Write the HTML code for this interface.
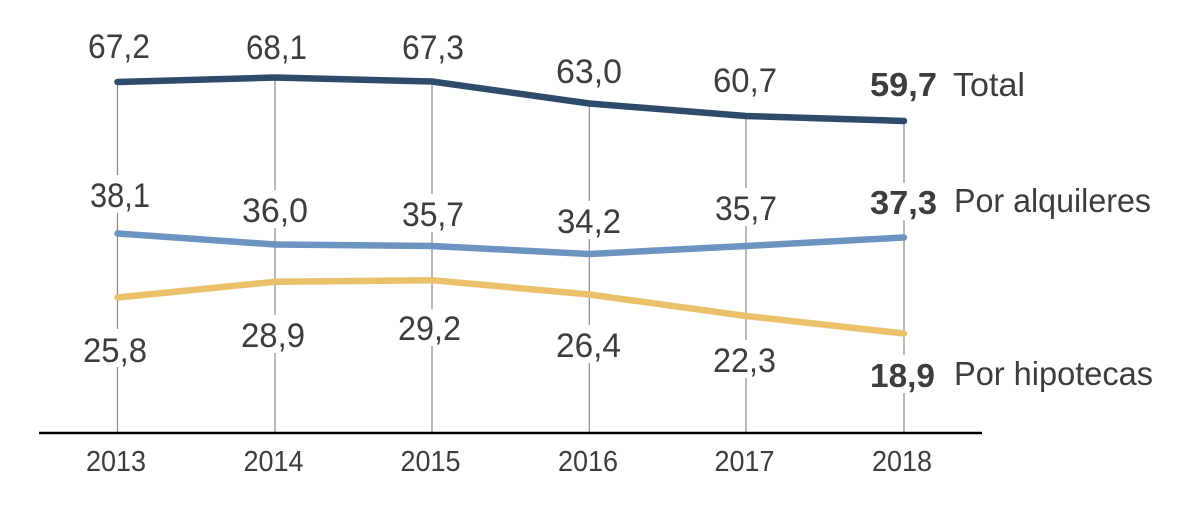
<!DOCTYPE html>
<html>
<head>
<meta charset="utf-8">
<style>
  html, body { margin: 0; padding: 0; background: #ffffff; }
  body { width: 1200px; height: 518px; overflow: hidden; }
  svg { display: block; }
  text { font-family: "Liberation Sans", "DejaVu Sans", sans-serif; fill: #3d3d3d; }
</style>
</head>
<body>
<svg width="1200" height="518" viewBox="0 0 1200 518" xmlns="http://www.w3.org/2000/svg">
  <rect x="0" y="0" width="1200" height="518" fill="#ffffff"/>

  <!-- gridlines -->
  <g stroke="#8a8a8a" stroke-width="1.2">
    <line x1="117.5" y1="82" x2="117.5" y2="432"/>
    <line x1="275" y1="77" x2="275" y2="432"/>
    <line x1="432" y1="81" x2="432" y2="432"/>
    <line x1="589.3" y1="103" x2="589.3" y2="432"/>
    <line x1="746" y1="116" x2="746" y2="432"/>
    <line x1="904" y1="121" x2="904" y2="432"/>
  </g>

  <!-- white gaps behind labels crossing gridlines -->
  <g fill="#ffffff">
    <rect x="110" y="175" width="16" height="38"/>
    <rect x="268" y="190" width="16" height="38"/>
    <rect x="425" y="194" width="16" height="38"/>
    <rect x="582" y="201" width="16" height="38"/>
    <rect x="739" y="188" width="16" height="38"/>
    <rect x="897" y="183" width="16" height="37"/>
    <rect x="110" y="329" width="16" height="38"/>
    <rect x="268" y="315" width="16" height="38"/>
    <rect x="425" y="309" width="16" height="37"/>
    <rect x="582" y="325" width="16" height="38"/>
    <rect x="739" y="340" width="16" height="38"/>
    <rect x="897" y="355" width="16" height="38"/>
  </g>

  <!-- axis -->
  <line x1="39" y1="433" x2="982" y2="433" stroke="#000000" stroke-width="2.5"/>

  <!-- series -->
  <polyline fill="none" stroke="#2f4b6c" stroke-width="6.5" stroke-linecap="round" stroke-linejoin="round"
    points="117.5,82 275,77.5 432,81.5 589.3,103.5 746,116 904,121"/>
  <polyline fill="none" stroke="#6b94c1" stroke-width="6.5" stroke-linecap="round" stroke-linejoin="round"
    points="117.5,233.5 275,244.5 432,246 589.3,254 746,246 904,237.5"/>
  <polyline fill="none" stroke="#eac16a" stroke-width="6.5" stroke-linecap="round" stroke-linejoin="round"
    points="117.5,297.5 275,281.8 432,280.2 589.3,294.5 746,316 904,333.5"/>

  <!-- Total labels -->
  <g font-size="34">
    <text x="88" y="58" textLength="62" lengthAdjust="spacingAndGlyphs">67,2</text>
    <text x="246" y="59" textLength="61" lengthAdjust="spacingAndGlyphs">68,1</text>
    <text x="402" y="59" textLength="62" lengthAdjust="spacingAndGlyphs">67,3</text>
    <text x="556" y="83" textLength="66" lengthAdjust="spacingAndGlyphs">63,0</text>
    <text x="713" y="92" textLength="64" lengthAdjust="spacingAndGlyphs">60,7</text>
  </g>
  <!-- Alquileres labels -->
  <g font-size="34">
    <text x="90" y="207" textLength="60" lengthAdjust="spacingAndGlyphs">38,1</text>
    <text x="242" y="222" textLength="66" lengthAdjust="spacingAndGlyphs">36,0</text>
    <text x="402" y="226" textLength="62" lengthAdjust="spacingAndGlyphs">35,7</text>
    <text x="557" y="233" textLength="64" lengthAdjust="spacingAndGlyphs">34,2</text>
    <text x="715" y="220" textLength="62" lengthAdjust="spacingAndGlyphs">35,7</text>
  </g>
  <!-- Hipotecas labels -->
  <g font-size="34">
    <text x="83" y="362" textLength="64" lengthAdjust="spacingAndGlyphs">25,8</text>
    <text x="241" y="347" textLength="64" lengthAdjust="spacingAndGlyphs">28,9</text>
    <text x="398" y="340" textLength="63" lengthAdjust="spacingAndGlyphs">29,2</text>
    <text x="556" y="357" textLength="65" lengthAdjust="spacingAndGlyphs">26,4</text>
    <text x="713" y="372" textLength="63" lengthAdjust="spacingAndGlyphs">22,3</text>
  </g>

  <!-- end labels -->
  <g font-size="33" font-weight="bold">
    <text x="870" y="96" textLength="67" lengthAdjust="spacingAndGlyphs">59,7</text>
    <text x="870" y="214" textLength="67" lengthAdjust="spacingAndGlyphs">37,3</text>
    <text x="870" y="387" textLength="65" lengthAdjust="spacingAndGlyphs">18,9</text>
  </g>
  <g font-size="33">
    <text x="953" y="96" textLength="72" lengthAdjust="spacingAndGlyphs">Total</text>
    <text x="954" y="212" textLength="197" lengthAdjust="spacingAndGlyphs">Por alquileres</text>
    <text x="954" y="385" textLength="199" lengthAdjust="spacingAndGlyphs">Por hipotecas</text>
  </g>

  <!-- year labels -->
  <g font-size="29" text-anchor="middle">
    <text x="116" y="471" textLength="60" lengthAdjust="spacingAndGlyphs">2013</text>
    <text x="273.5" y="471" textLength="60" lengthAdjust="spacingAndGlyphs">2014</text>
    <text x="430.5" y="471" textLength="60" lengthAdjust="spacingAndGlyphs">2015</text>
    <text x="588" y="471" textLength="60" lengthAdjust="spacingAndGlyphs">2016</text>
    <text x="744.5" y="471" textLength="60" lengthAdjust="spacingAndGlyphs">2017</text>
    <text x="902" y="471" textLength="60" lengthAdjust="spacingAndGlyphs">2018</text>
  </g>
</svg>
</body>
</html>
